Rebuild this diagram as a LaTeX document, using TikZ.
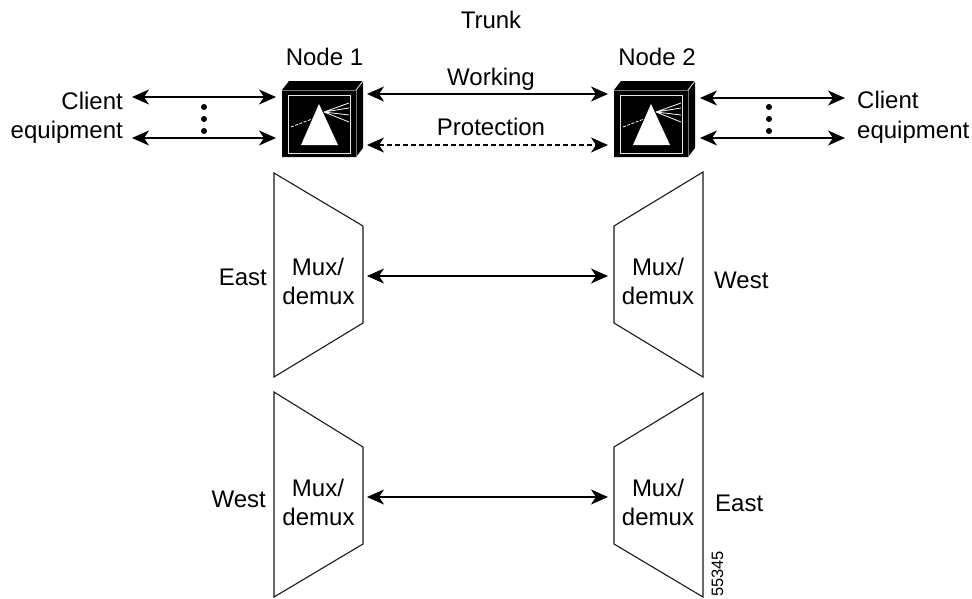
\documentclass[tikz,border=0pt]{standalone}
\usepackage{fontspec}
\setmainfont{Liberation Sans}
\usetikzlibrary{arrows.meta}
\tikzset{
  x=1pt,y=-1pt,
  lbl/.style={inner sep=0pt,font=\fontsize{24}{29}\selectfont,anchor=base},
  lbr/.style={lbl,anchor=base east},
  lbs/.style={lbl,anchor=base west},
  dbl/.style={line width=1.3pt,{Stealth[length=17pt,width=15pt,inset=5pt]}-{Stealth[length=17pt,width=15pt,inset=5pt]}},
  mux/.style={draw=black!90,line width=1.1pt,line join=miter},
  dot/.style={circle,fill=black,inner sep=0pt,minimum size=6pt}
}
\newcommand{\prismbox}[2]{%
  \begin{scope}[shift={(#1,#2)}]
    \fill[black] (0,0) -- (7,-9) -- (81,-9) -- (81,58) -- (74,67) -- (0,67) -- cycle;
    \draw[white,line width=.7pt] (74,0) -- (81,-9);
    \draw[black!55,line width=.7pt] (0,0) -- (74,0) -- (74,67);
    \draw[white!90!black,line width=1pt] (6,5) rectangle (68,63);
    \fill[white] (37,14) -- (19,55) -- (56,55) -- cycle;
    \draw[white,line width=.8pt,dash pattern=on 3pt off 1.5pt] (9,37) -- (30,29);
    \draw[white,line width=.8pt] (42,22) -- (67,13) (42,22) -- (67,18) (42,22) -- (67,25) (42,22) -- (67,32);
  \end{scope}}
\begin{document}
\begin{tikzpicture}
\useasboundingbox (0,0) rectangle (972,598);
\prismbox{282}{90}
\prismbox{614}{90}
\coordinate (n1wt) at (276,97); \coordinate (n1wb) at (276,138);
\coordinate (n1et) at (367,94); \coordinate (n1eb) at (367,145);
\coordinate (n2wt) at (608,94); \coordinate (n2wb) at (608,145);
\coordinate (n2et) at (700,98); \coordinate (n2eb) at (700,138);
\coordinate (cl) at (132,97); \coordinate (clb) at (132,138);
\coordinate (cr) at (845,98); \coordinate (crb) at (845,138);
\node[lbl] (trunk) at (491,28) {Trunk};
\node[lbl] (n1) at (324.5,65) {Node 1};
\node[lbl] (n2) at (657,65) {Node 2};
\node[lbl] (work) at (491,85) {Working};
\node[lbl] (prot) at (491,135) {Protection};
\node[lbr] (cll) at (123,109) {Client};
\node[lbr] (cle) at (123,138) {equipment};
\node[lbs] (crl) at (857,108) {Client};
\node[lbs] (cre) at (857,138) {equipment};
\draw[dbl] (cl) -- (n1wt);
\draw[dbl] (clb) -- (n1wb);
\draw[dbl] (n1et) -- (n2wt);
\draw[dbl,dash pattern=on 5pt off 3pt] (n1eb) -- (n2wb);
\draw[dbl] (n2et) -- (cr);
\draw[dbl] (n2eb) -- (crb);
\node[dot] (d1) at (204,107) {}; \node[dot] (d2) at (204,119) {}; \node[dot] (d3) at (204,131) {};
\node[dot] (d4) at (769,107) {}; \node[dot] (d5) at (769,119) {}; \node[dot] (d6) at (769,131) {};
\draw[mux] (274,173) -- (363,226) -- (363,323) -- (274,377) -- cycle;
\draw[mux] (703,172) -- (614,226) -- (614,323) -- (703,377) -- cycle;
\draw[mux] (274,392) -- (363,447) -- (363,544) -- (274,597) -- cycle;
\draw[mux] (703,393) -- (614,447) -- (614,544) -- (703,597) -- cycle;
\node[lbl] (m1a) at (318,275) {Mux/};
\node[lbl] (m1b) at (318.5,304) {demux};
\node[lbl] (m2a) at (658,275) {Mux/};
\node[lbl] (m2b) at (658,304) {demux};
\node[lbl] (m3a) at (318,496) {Mux/};
\node[lbl] (m3b) at (318.5,525) {demux};
\node[lbl] (m4a) at (658,496) {Mux/};
\node[lbl] (m4b) at (658,525) {demux};
\coordinate (a1) at (367,276); \coordinate (a2) at (608,276);
\coordinate (a3) at (367,497); \coordinate (a4) at (608,497);
\draw[dbl] (a1) -- (a2);
\draw[dbl] (a3) -- (a4);
\node[lbr] (e1) at (267,285) {East};
\node[lbs] (w1) at (714,288) {West};
\node[lbr] (w2) at (266,507) {West};
\node[lbs] (e2) at (715,511) {East};
\node[inner sep=0pt,rotate=90,anchor=base west,font=\fontsize{16.5}{20}\selectfont] (id) at (723,597) {55345};
\end{tikzpicture}
\end{document}
